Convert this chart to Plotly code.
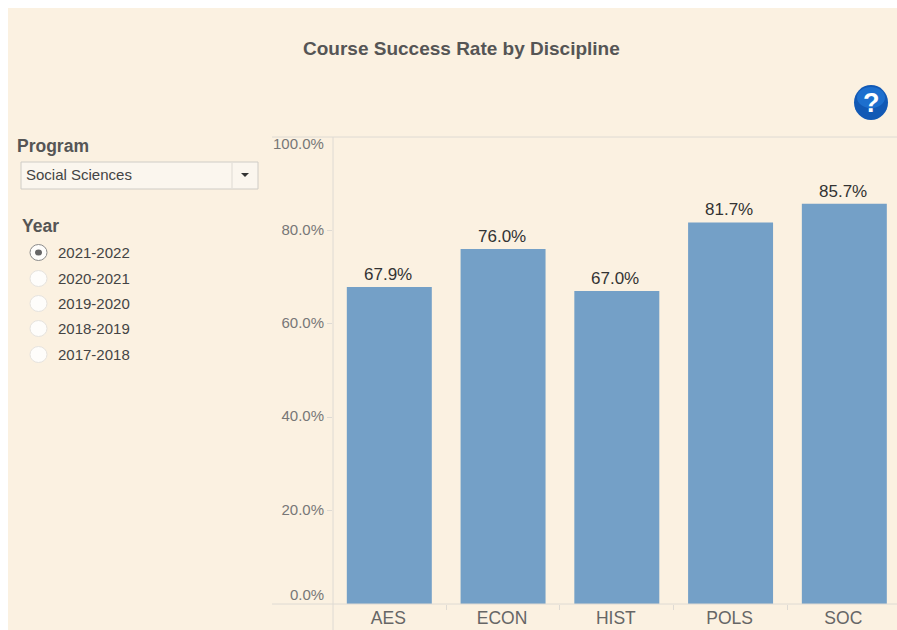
import plotly.graph_objects as go

disciplines = ["AES", "ECON", "HIST", "POLS", "SOC"]
success_rate = [67.9, 76.0, 67.0, 81.7, 85.7]
y_ticks = [20, 40, 60, 80]
y_tick_labels = ["20.0%", "40.0%", "60.0%", "80.0%"]
years = ["2021-2022", "2020-2021", "2019-2020", "2018-2019", "2017-2018"]
year_y = [252.5, 278.5, 303.5, 328.5, 354.5]

W, H, OFF = 897, 630, 0
CREAM = "#fbf1e1"
LINE = "#dedad3"
FONT = "Liberation Sans, Arial, sans-serif"

px = lambda x: (x - OFF) / W
py = lambda y: 1 - (y - OFF) / H

fig = go.Figure(go.Bar(
    x=disciplines, y=success_rate, width=0.747,
    marker=dict(color="#74a0c7", line=dict(width=0)),
    hoverinfo="skip",
))

# cream panel, leaving the white page edge at top and left
shapes = [dict(type="rect", xref="paper", yref="paper", x0=px(8), x1=1, y0=0, y1=py(8),
               fillcolor=CREAM, line=dict(width=0), layer="below")]
def rect(x0, y0, x1, y1, fill, line=None, lw=1, kind="rect"):
    shapes.append(dict(type=kind, xref="paper", yref="paper", x0=px(x0), x1=px(x1), y0=py(y0), y1=py(y1),
                       fillcolor=fill, line=dict(color=line or fill, width=lw if line else 0), layer="above"))
def line(x0, y0, x1, y1, color=LINE):
    shapes.append(dict(type="line", xref="paper", yref="paper", x0=px(x0), x1=px(x1), y0=py(y0), y1=py(y1),
                       line=dict(color=color, width=1), layer="above"))

notes = []
def text(x, y, s, size, color="#555555", anchor="left", bold=False):
    notes.append(dict(xref="paper", yref="paper", x=px(x), y=py(y), text=f"<b>{s}</b>" if bold else s,
                      showarrow=False, xanchor=anchor, yanchor="middle", borderpad=0, borderwidth=0,
                      font=dict(size=size, color=color, family=FONT)))

# value labels
for d, v in zip(disciplines, success_rate):
    notes.append(dict(xref="x", yref="y", x=d, y=v, text=f"{v:.1f}%", showarrow=False, xanchor="center",
                      yanchor="bottom", xshift=-1.5, yshift=3, borderpad=0, borderwidth=0,
                      font=dict(size=17, color="#333333", family=FONT)))

# frame lines
line(272, 137, 897, 137)
line(272, 604, 897, 604)
line(333, 137, 333, 630)

# dropdown
rect(21, 162, 258, 189, "#fbf6ee", "#cfccc6")
line(232, 163, 232, 188)
shapes.append(dict(type="path", xref="paper", yref="paper", fillcolor="#333333", line=dict(width=0), layer="above",
                   path=f"M {px(241)} {py(173)} L {px(249)} {py(173)} L {px(245)} {py(177)} Z"))
text(17, 146, "Program", 17.5, "#555555", bold=True)
text(26, 174, "Social Sciences", 15, "#444444")
text(22, 226, "Year", 17.5, "#555555", bold=True)

# radios
for i, (yr, yy) in enumerate(zip(years, year_y)):
    rect(30, yy - 8, 47, yy + 8, "#fefdfb", "#8a8a8a" if i == 0 else "#e6e3de", kind="circle")
    if i == 0:
        rect(35, yy - 3, 42, yy + 3, "#666666", kind="circle")
    text(58, yy, yr, 15, "#444444")

# help icon
rect(854, 85, 888, 120, "#1259b5", kind="circle")
rect(857, 87, 885, 108, "#1d6fce", kind="circle")
text(871, 103, "?", 27, "#ffffff", anchor="center", bold=True)

text(461.5, 48.5, "Course Success Rate by Discipline", 19, "#555555", anchor="center", bold=True)
text(323.5, 143.5, "100.0%", 15, "#777777", anchor="right")
text(323.5, 594, "0.0%", 15, "#777777", anchor="right")

fig.update_layout(
    width=W, height=H, margin=dict(l=0, r=0, t=0, b=0), autosize=False,
    paper_bgcolor="#ffffff", plot_bgcolor=CREAM, showlegend=False,
    shapes=shapes, annotations=notes,
    font=dict(family=FONT),
    xaxis=dict(domain=[px(333), 1], range=[-0.495, 4.463], type="category", tickson="boundaries",
               ticks="outside", ticklen=5, tickcolor=LINE, showgrid=False, zeroline=False,
               ticklabelstandoff=1, ticklabelshift=-1,
               tickfont=dict(size=17.5, color="#666666", family=FONT), showline=False),
    yaxis=dict(domain=[py(604), py(137)], range=[0, 100], tickvals=y_ticks, ticktext=y_tick_labels,
               ticks="outside", ticklen=5, tickcolor=LINE, showgrid=False, zeroline=False, showline=False,
               ticklabelshift=-1,
               tickfont=dict(size=15, color="#777777", family=FONT)),
)
fig.write_html("out.html", config=dict(displayModeBar=False), default_width="897px", default_height="630px",
               post_script="document.body.style.margin='0';document.documentElement.style.overflow='hidden';")
